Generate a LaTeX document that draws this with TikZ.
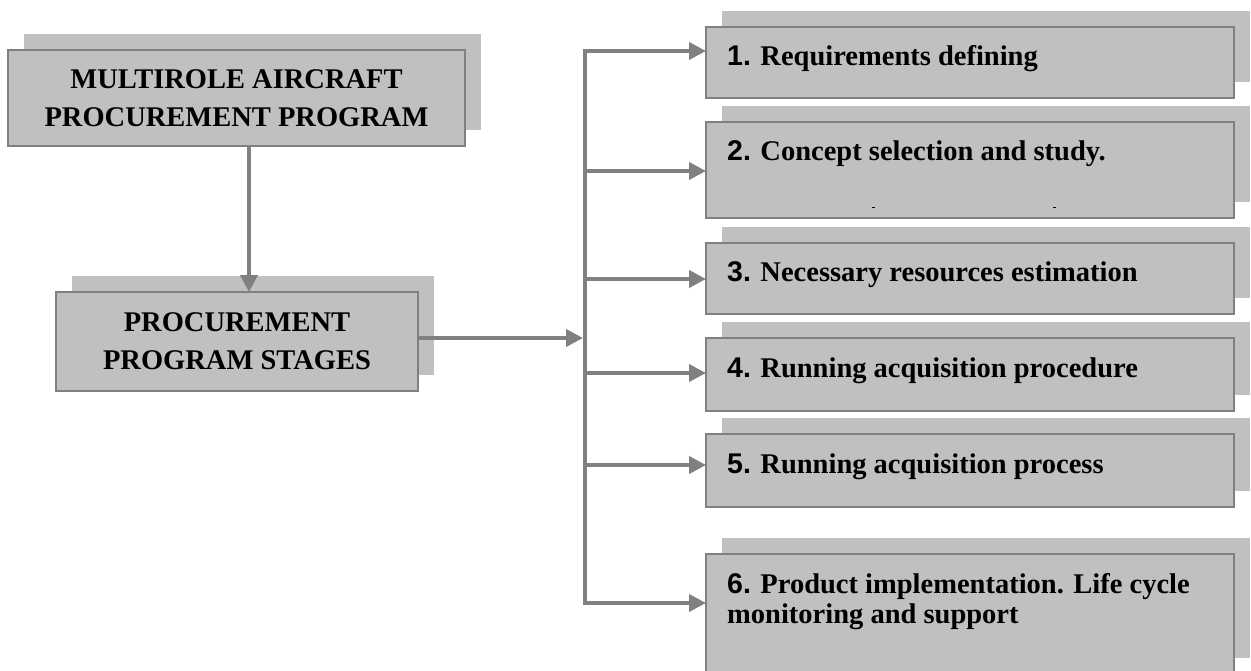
\documentclass[tikz,border=0pt]{standalone}
\usepackage{fontspec}
\setmainfont{Liberation Serif}
\newfontfamily\numfont{Liberation Sans}
\usetikzlibrary{arrows.meta,shadows}
\definecolor{boxgray}{RGB}{192,192,192}
\definecolor{linegray}{RGB}{128,128,128}
\tikzset{
  panel/.style={rectangle, fill=boxgray, draw=linegray, line width=1.5pt,
    inner sep=0pt, outer sep=0pt, anchor=north west,
    general shadow={shadow xshift=16pt, shadow yshift=16pt, fill=boxgray}},
  headbox/.style={panel, align=center, font=\bfseries\fontsize{28.5}{38}\selectfont},
  stagelabel/.style={inner sep=0pt, anchor=base west, align=left,
    font=\bfseries\fontsize{28.5}{30}\selectfont},
  link/.style={draw=linegray, line width=4pt, -{Triangle[length=17pt,width=17pt]}},
  bus/.style={draw=linegray, line width=4pt, line cap=rect}
}
\begin{document}
\begin{tikzpicture}[x=1pt,y=-1pt]
\useasboundingbox (0,0) rectangle (1251,670);

% left column
\node[headbox, minimum width=457pt, minimum height=96pt] (prog) at (8,50)
  {MULTIROLE AIRCRAFT\\PROCUREMENT PROGRAM};
\node[headbox, minimum width=362pt, minimum height=99pt] (stages) at (56,292)
  {PROCUREMENT\\PROGRAM STAGES};

% stage boxes
\node[panel, minimum width=528pt, minimum height=71pt]  (s1) at (706,27) {};
\node[panel, minimum width=528pt, minimum height=96pt]  (s2) at (706,122) {};
\node[panel, minimum width=528pt, minimum height=71pt]  (s3) at (706,243) {};
\node[panel, minimum width=528pt, minimum height=73pt]  (s4) at (706,338) {};
\node[panel, minimum width=528pt, minimum height=73pt]  (s5) at (706,434) {};
\node[panel, minimum width=528pt, minimum height=120pt] (s6) at (706,554) {};

\node[stagelabel] (t1) at (727,65)  {{\numfont 1.} Requirements defining};
\node[stagelabel] (t2) at (727,160) {{\numfont 2.} Concept selection and study.};
\node[stagelabel] (t3) at (727,281) {{\numfont 3.} Necessary resources estimation};
\node[stagelabel] (t4) at (727,377) {{\numfont 4.} Running acquisition procedure};
\node[stagelabel] (t5) at (727,473) {{\numfont 5.} Running acquisition process};
% the base anchor of a two-line label sits on its last line
\node[stagelabel] (t6) at (727,623) {{\numfont 6.} Product implementation. Life cycle\\monitoring and support};

% small marks inside the second box
\fill (871.5,206.6) rectangle (874.5,207.8);
\fill (1052.5,206.6) rectangle (1055.5,207.8);

% bus coordinates
\coordinate (b1) at (585,51);
\coordinate (b2) at (585,171);
\coordinate (b3) at (585,279);
\coordinate (b4) at (585,373);
\coordinate (b5) at (585,465);
\coordinate (b6) at (585,603);
\coordinate (hub) at (583,338);
\coordinate (p1) at (249,146);
\coordinate (p2) at (418,338);

% connectors
\draw[link] (p1) -- (p1 |- stages.north);
\draw[link] (p2) -- (hub);
\draw[bus] (b1) -- (b6);
\foreach \i in {1,...,6}
  \draw[link] (b\i) -- (b\i -| s\i.west);
\end{tikzpicture}
\end{document}
